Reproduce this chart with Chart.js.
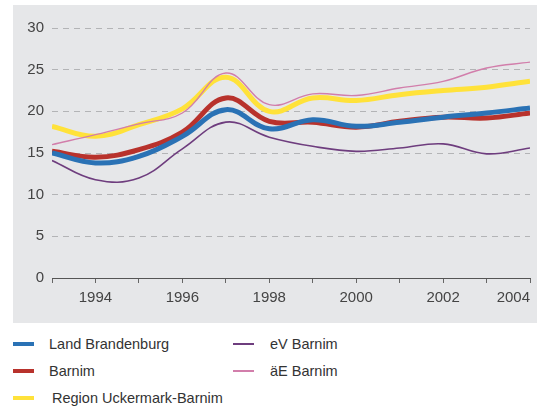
<!DOCTYPE html>
<html>
<head>
<meta charset="utf-8">
<script src="https://cdn.jsdelivr.net/npm/chart.js@4.4.0/dist/chart.umd.min.js"></script>
<style>
  body { margin: 0; background: #fff; width: 537px; height: 409px; overflow: hidden; font-family: "Liberation Sans", Arial, sans-serif; }
  #panel { position: absolute; left: 13px; top: 5px; width: 524px; height: 318px; background: #e6e7e9; }
  #legend { position: absolute; left: 0; top: 332px; width: 537px; height: 77px; }
  .item { position: absolute; font-size: 14.5px; color: #333; line-height: 18px; }
  .swatch { position: absolute; top: 8px; width: 21px; }
  .label { position: absolute; white-space: nowrap; }
</style>
</head>
<body>
<div id="panel"><canvas id="chart" width="524" height="318"></canvas></div>
<div id="legend"></div>
<script>
// years on the x axis
const years = [1993, 1994, 1995, 1996, 1997, 1998, 1999, 2000, 2001, 2002, 2003, 2004];
const yTicks = [0, 5, 10, 15, 20, 25, 30];

// series
const landBrandenburg = [15.0, 13.8, 14.6, 17.0, 20.2, 17.9, 19.0, 18.2, 18.7, 19.3, 19.8, 20.4];
const barnim = [15.2, 14.5, 15.4, 17.5, 21.6, 18.8, 18.7, 18.1, 18.8, 19.3, 19.2, 19.8];
const regionUM = [18.2, 17.0, 18.4, 20.3, 24.1, 20.0, 21.6, 21.3, 22.0, 22.5, 22.9, 23.6];
const evBarnim = [14.1, 11.8, 12.0, 15.5, 18.7, 16.9, 15.8, 15.2, 15.6, 16.1, 14.9, 15.6];
const aeBarnim = [16.0, 17.2, 18.5, 19.8, 24.6, 20.8, 22.1, 21.9, 22.8, 23.6, 25.2, 25.9];

const series = [
    { label: 'Land Brandenburg', data: landBrandenburg, color: '#2a72b5', width: 5, order: 3, col: 0, row: 0 },
    { label: 'Barnim', data: barnim, color: '#b8322c', width: 5, order: 4, col: 0, row: 1 },
    { label: 'Region Uckermark-Barnim', data: regionUM, color: '#ffe23a', width: 5, order: 5, col: 0, row: 2 },
    { label: 'eV Barnim', data: evBarnim, color: '#6e3d7e', width: 1.6, order: 2, col: 1, row: 0 },
    { label: 'äE Barnim', data: aeBarnim, color: '#d27eab', width: 1.4, order: 1, col: 1, row: 1 }
];

const ctx = document.getElementById('chart').getContext('2d');
new Chart(ctx, {
    type: 'line',
    data: {
        datasets: series.map(s => ({
            label: s.label,
            data: s.data.map((v, i) => ({ x: years[i], y: v })),
            borderColor: s.color,
            borderWidth: s.width,
            pointRadius: 0,
            tension: 0.4,
            fill: false,
            order: s.order
        }))
    },
    options: {
        responsive: false,
        animation: false,
        layout: { padding: { top: 23, right: 7, left: 0, bottom: 0 } },
        plugins: { legend: { display: false }, tooltip: { enabled: false } },
        scales: {
            x: {
                type: 'linear',
                min: 1993,
                max: 2004,
                afterFit: s => { s.height = 45; s.paddingRight = 0; s.paddingLeft = 0; },
                ticks: {
                    stepSize: 1,
                    autoSkip: false,
                    maxRotation: 0,
                    align: 'inner',
                    padding: 6,
                    color: '#444',
                    font: { family: 'Liberation Sans', size: 15 },
                    callback: v => (v % 2 === 0 ? String(v) : '')
                },
                grid: { drawOnChartArea: false, drawTicks: true, tickLength: 5, color: '#666' },
                border: { display: true, color: '#555', width: 1 }
            },
            y: {
                min: 0,
                max: 30,
                afterFit: s => { s.width = 39; },
                afterBuildTicks: s => { s.ticks = yTicks.map(v => ({ value: v })); },
                ticks: {
                    padding: 8,
                    color: '#444',
                    font: { family: 'Liberation Sans', size: 15 }
                },
                grid: { color: '#b3b4b6', lineWidth: 1, drawTicks: false },
                border: { display: false, dash: [6, 5] }
            }
        }
    }
});

// legend built from the series list
const legend = document.getElementById('legend');
const colX = [[13, 49], [233, 270]];
const rowY = [3, 30, 57];
series.forEach(s => {
    const item = document.createElement('div');
    item.className = 'item';
    item.style.left = '0px';
    item.style.top = rowY[s.row] + 'px';
    const sw = document.createElement('div');
    sw.className = 'swatch';
    sw.style.left = colX[s.col][0] + 'px';
    sw.style.height = (s.width > 2 ? 4 : 2) + 'px';
    sw.style.marginTop = (s.width > 2 ? -1 : 0) + 'px';
    sw.style.background = s.color;
    const lb = document.createElement('div');
    lb.className = 'label';
    lb.style.left = (colX[s.col][1] + (s.row === 2 ? 3 : 0)) + 'px';
    lb.textContent = s.label;
    item.appendChild(sw);
    item.appendChild(lb);
    legend.appendChild(item);
});
</script>
</body>
</html>
